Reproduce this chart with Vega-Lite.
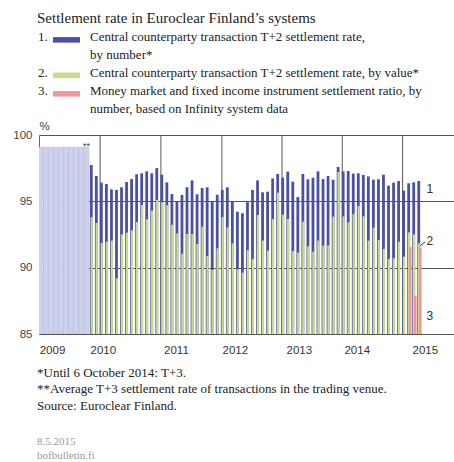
{
  "$schema": "https://vega.github.io/schema/vega-lite/v6.json",
  "width": 415,
  "height": 199,
  "autosize": {"type": "none"},
  "padding": {"left": 39, "top": 135, "right": 0, "bottom": 128},
  "background": "white",
  "config": {"view": {"stroke": null}, "font": "Liberation Sans"},
  "title": {
    "text": ["*Until 6 October 2014: T+3.", "**Average T+3 settlement rate of transactions in the trading venue.", "Source: Euroclear Finland."],
    "subtitle": ["8.5.2015", "bofbulletin.fi"],
    "orient": "bottom",
    "anchor": "start",
    "frame": "group",
    "dx": -2,
    "offset": 11,
    "font": "Liberation Serif",
    "fontSize": 13,
    "fontWeight": "normal",
    "color": "#222222",
    "lineHeight": 16.5,
    "subtitleFont": "Liberation Serif",
    "subtitleFontSize": 11,
    "subtitleColor": "#999999",
    "subtitleLineHeight": 14,
    "subtitlePadding": 23
  },
  "datasets": {
    "years": [{"m": 11.75}, {"m": 23.82}, {"m": 35.93}, {"m": 47.86}, {"m": 59.82}, {"m": 71.8}],
    "avg": [{"m": 0, "v": 99.07}, {"m": 1, "v": 99.07}, {"m": 2, "v": 99.07}, {"m": 3, "v": 99.07}, {"m": 4, "v": 99.07}, {"m": 5, "v": 99.07}, {"m": 6, "v": 99.07}, {"m": 7, "v": 99.07}, {"m": 8, "v": 99.07}, {"m": 9, "v": 99.07}],
    "main": [
      {"m": 10, "n": 97.74, "v": 93.80},
      {"m": 11, "n": 96.91, "v": 93.37},
      {"m": 12, "n": 96.41, "v": 91.86},
      {"m": 13, "n": 96.31, "v": 91.96},
      {"m": 14, "n": 95.90, "v": 92.04},
      {"m": 15, "n": 95.86, "v": 89.20},
      {"m": 16, "n": 96.06, "v": 92.51},
      {"m": 17, "n": 96.46, "v": 92.64},
      {"m": 18, "n": 96.68, "v": 92.82},
      {"m": 19, "n": 97.04, "v": 93.44},
      {"m": 20, "n": 97.11, "v": 94.72},
      {"m": 21, "n": 97.26, "v": 93.64},
      {"m": 22, "n": 97.11, "v": 94.30},
      {"m": 23, "n": 97.51, "v": 95.10},
      {"m": 24, "n": 97.01, "v": 94.93},
      {"m": 25, "n": 96.43, "v": 94.70},
      {"m": 26, "n": 95.55, "v": 93.24},
      {"m": 27, "n": 95.00, "v": 92.59},
      {"m": 28, "n": 95.48, "v": 91.06},
      {"m": 29, "n": 96.06, "v": 92.54},
      {"m": 30, "n": 96.58, "v": 92.54},
      {"m": 31, "n": 95.53, "v": 91.79},
      {"m": 32, "n": 96.01, "v": 93.09},
      {"m": 33, "n": 96.06, "v": 90.88},
      {"m": 34, "n": 94.97, "v": 89.83},
      {"m": 35, "n": 95.50, "v": 91.46},
      {"m": 36, "n": 95.86, "v": 93.82},
      {"m": 37, "n": 96.06, "v": 93.04},
      {"m": 38, "n": 95.00, "v": 91.84},
      {"m": 39, "n": 94.22, "v": 89.88},
      {"m": 40, "n": 94.10, "v": 89.63},
      {"m": 41, "n": 94.93, "v": 91.33},
      {"m": 42, "n": 95.86, "v": 90.65},
      {"m": 43, "n": 96.58, "v": 93.97},
      {"m": 44, "n": 95.68, "v": 92.04},
      {"m": 45, "n": 95.73, "v": 91.28},
      {"m": 46, "n": 96.73, "v": 93.67},
      {"m": 47, "n": 97.06, "v": 95.65},
      {"m": 48, "n": 96.78, "v": 93.99},
      {"m": 49, "n": 97.24, "v": 93.67},
      {"m": 50, "n": 96.48, "v": 91.26},
      {"m": 51, "n": 95.33, "v": 91.13},
      {"m": 52, "n": 97.06, "v": 93.47},
      {"m": 53, "n": 96.66, "v": 91.61},
      {"m": 54, "n": 96.78, "v": 91.21},
      {"m": 55, "n": 97.26, "v": 92.04},
      {"m": 56, "n": 96.68, "v": 91.66},
      {"m": 57, "n": 96.91, "v": 91.68},
      {"m": 58, "n": 96.63, "v": 93.85},
      {"m": 59, "n": 97.59, "v": 97.21},
      {"m": 60, "n": 97.26, "v": 93.87},
      {"m": 61, "n": 97.29, "v": 93.42},
      {"m": 62, "n": 97.09, "v": 94.05},
      {"m": 63, "n": 97.11, "v": 94.65},
      {"m": 64, "n": 96.99, "v": 93.87},
      {"m": 65, "n": 96.88, "v": 92.04},
      {"m": 66, "n": 96.63, "v": 93.02},
      {"m": 67, "n": 96.66, "v": 92.09},
      {"m": 68, "n": 97.01, "v": 91.41},
      {"m": 69, "n": 96.18, "v": 90.66},
      {"m": 70, "n": 96.41, "v": 90.71},
      {"m": 71, "n": 96.53, "v": 91.96},
      {"m": 72, "n": 95.81, "v": 90.83},
      {"m": 73, "n": 96.36, "v": 92.66, "i": 91.58},
      {"m": 74, "n": 96.43, "v": 92.51, "i": 87.89},
      {"m": 75, "n": 96.53, "v": 91.84, "i": 91.53}
    ],
    "labels": [
      {"m": 77.2, "v": 95.95, "t": "1"},
      {"m": 77.2, "v": 92.0, "t": "2"},
      {"m": 77.2, "v": 86.38, "t": "3"},
      {"m": 9.05, "v": 99.15, "t": "**"}
    ],
    "leader": [{"m1": 75.25, "v1": 91.64, "m2": 76.24, "v2": 91.94}]
  },
  "layer": [
    {
      "data": {"name": "years"},
      "mark": {"type": "rule", "color": "#555555", "strokeWidth": 1},
      "encoding": {
        "x": {
          "field": "m",
          "type": "quantitative",
          "scale": {"domain": [-0.38, 82.0], "nice": false, "zero": false, "padding": 0},
          "axis": {
            "title": null,
            "values": [2.2, 12.3, 26.8, 38.5, 51.2, 62.7, 76.2],
            "labelExpr": "datum.value < 5 ? '2009' : datum.value < 20 ? '2010' : datum.value < 30 ? '2011' : datum.value < 45 ? '2012' : datum.value < 55 ? '2013' : datum.value < 70 ? '2014' : '2015'",
            "labelFont": "Liberation Sans",
            "labelFontSize": 11.5,
            "labelColor": "#333333",
            "labelPadding": 10,
            "labelFlush": false,
            "labelOverlap": false,
            "ticks": false,
            "tickSize": 0,
            "domain": false,
            "grid": false
          }
        },
        "y": {
          "datum": 100,
          "type": "quantitative",
          "scale": {"domain": [85, 100], "nice": false, "zero": false, "padding": 0},
          "axis": {
            "title": "%",
            "titleAngle": 0,
            "titleAlign": "left",
            "titleBaseline": "alphabetic",
            "titleX": 0,
            "titleY": -6,
            "titleFont": "Liberation Sans",
            "titleFontSize": 11.5,
            "titleFontWeight": "normal",
            "titleColor": "#444444",
            "values": [85, 90, 95, 100],
            "labelFont": "Liberation Sans",
            "labelFontSize": 11.5,
            "labelColor": "#444444",
            "labelPadding": 7,
            "ticks": false,
            "tickSize": 0,
            "domain": true,
            "domainColor": "#666666",
            "grid": true,
            "gridColor": "#555555",
            "gridWidth": 1
          }
        },
        "y2": {"datum": 85}
      }
    },
    {
      "data": {"name": "avg"},
      "mark": {"type": "bar", "size": 5.2, "color": "#CED1EC", "stroke": "#B9BDE2", "strokeWidth": 0.7, "clip": true},
      "encoding": {
        "x": {"field": "m", "type": "quantitative"},
        "y": {"field": "v", "type": "quantitative"},
        "y2": {"datum": 85}
      }
    },
    {
      "data": {"name": "main"},
      "mark": {"type": "bar", "size": 2.8},
      "encoding": {
        "x": {"field": "m", "type": "quantitative"},
        "y": {"field": "n", "type": "quantitative"},
        "y2": {"datum": 85},
        "color": {
          "datum": "n",
          "type": "nominal",
          "scale": {"domain": ["n", "v", "i"], "range": ["#4A51A5", "#C9DB8C", "#F2959C"]},
          "legend": {
            "orient": "none",
            "legendX": -2,
            "legendY": -124.4,
            "direction": "vertical",
            "title": "Settlement rate in Euroclear Finland’s systems",
            "titleFont": "Liberation Serif",
            "titleFontSize": 15,
            "titleFontWeight": "normal",
            "titleColor": "#222222",
            "titlePadding": 5,
            "titleLimit": 500,
            "symbolType": "M-3,0H3V1.23H-3Z",
            "symbolSize": 81,
            "symbolStrokeWidth": 0,
            "symbolOpacity": 1,
            "symbolOffset": 23,
            "labelOffset": -35,
            "labelFont": "Liberation Serif",
            "labelFontSize": 13,
            "labelColor": "#222222",
            "labelLimit": 500,
            "rowPadding": 4.5,
            "padding": 0,
            "encode": {"labels": {"update": {"lineHeight": {"value": 17.5}}}},
            "labelExpr": "datum.value == 'n' ? ['1.\u2003\u2003\u2003\u00a0Central counterparty transaction T+2 settlement rate,', '\u200b\u2003\u2003\u2003\u2002\u00a0\u00a0by number*'] : datum.value == 'v' ? '2.\u2003\u2003\u2003\u00a0Central counterparty transaction T+2 settlement rate, by value*' : ['3.\u2003\u2003\u2003\u00a0Money market and fixed income instrument settlement ratio, by', '\u200b\u2003\u2003\u2003\u2002\u00a0\u00a0number, based on Infinity system data']"
          }
        }
      }
    },
    {
      "data": {"name": "main"},
      "mark": {"type": "bar", "size": 2.2, "xOffset": 0.4},
      "encoding": {
        "x": {"field": "m", "type": "quantitative"},
        "y": {"field": "v", "type": "quantitative"},
        "y2": {"datum": 85},
        "color": {"datum": "v", "type": "nominal"}
      }
    },
    {
      "data": {"name": "main"},
      "transform": [{"filter": "isValid(datum.i)"}],
      "mark": {"type": "bar", "size": 2.6, "xOffset": 1.6},
      "encoding": {
        "x": {"field": "m", "type": "quantitative"},
        "y": {"field": "i", "type": "quantitative"},
        "y2": {"datum": 85},
        "color": {"datum": "i", "type": "nominal"}
      }
    },
    {
      "data": {"name": "leader"},
      "mark": {"type": "rule", "color": "#333333", "strokeWidth": 1},
      "encoding": {
        "x": {"field": "m1", "type": "quantitative"},
        "x2": {"field": "m2"},
        "y": {"field": "v1", "type": "quantitative"},
        "y2": {"field": "v2"}
      }
    },
    {
      "data": {"name": "labels"},
      "mark": {"type": "text", "font": "Liberation Sans", "fontSize": 12, "color": "#333333", "align": "center", "baseline": "middle"},
      "encoding": {
        "x": {"field": "m", "type": "quantitative"},
        "y": {"field": "v", "type": "quantitative"},
        "text": {"field": "t"},
        "size": {"condition": {"test": "datum.t == '**'", "value": 9}, "value": 12}
      }
    }
  ]
}
